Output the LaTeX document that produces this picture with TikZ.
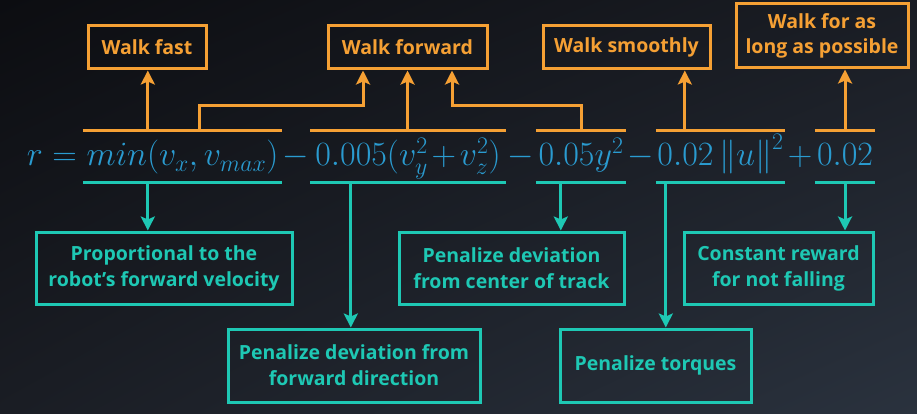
\RequirePackage{fix-cm}
\documentclass[tikz,border=0pt]{standalone}
\usepackage{amsmath}
\usepackage{fontspec}
\setsansfont{Open Sans}
\usepackage{tikz}
\usetikzlibrary{arrows.meta, positioning, calc, shadings}
\definecolor{cOrange}{RGB}{245,160,52}
\definecolor{cTeal}{RGB}{30,200,180}
\definecolor{cBlue}{RGB}{42,155,208}
\definecolor{bgDark}{RGB}{12,13,17}
\definecolor{bgMid}{RGB}{26,29,36}
\definecolor{bgLight}{RGB}{42,50,62}
\tikzset{
	goal/.style     ={rectangle, draw=cOrange, line width=3pt, text=cOrange, align=center, inner sep=2pt,
	                  font=\sffamily\bfseries\fontsize{19.5}{25}\selectfont},
	meaning/.style  ={rectangle, draw=cTeal, line width=3pt, text=cTeal, align=center, inner sep=2pt,
	                  font=\sffamily\bfseries\fontsize{19.5}{26}\selectfont},
	term/.style     ={inner sep=0pt, text=cBlue, text height=35pt, text depth=16pt, align=center,
	                  font=\fontsize{34}{40}\selectfont},
	op/.style       ={inner sep=0pt, text=cBlue, anchor=base, font=\fontsize{34}{40}\selectfont},
	upbar/.style    ={draw=cOrange, line width=3pt},
	downbar/.style  ={draw=cTeal, line width=3pt},
	uparr/.style    ={-{Stealth[length=14pt, width=14pt, inset=3pt]}, draw=cOrange, line width=3pt},
	downarr/.style  ={-{Stealth[length=14pt, width=14pt, inset=3pt]}, draw=cTeal, line width=3pt},
}
\begin{document}
\begin{tikzpicture}[x=1pt, y=-1pt]
	\useasboundingbox (0,0) rectangle (917,414);
	\shade[upper left=bgDark, upper right=bgMid, lower left=bgMid, lower right=bgLight] (0,0) rectangle (917,414);
	% terms of the reward
	\node[op, anchor=base east] (lhs) at (77,166) {$r=$};
	\node[term, text width=199pt] (t1) at (182.5,156.5) {$min(v_x, v_{max})$};
	\node[op] (m1) at (296,166) {$-$};
	\node[term, text width=196pt] (t2) at (408,156.5) {$0.005(v_y^2\mskip2mu{+}\mskip2mu v_z^2)$};
	\node[op] (m2) at (521,166) {$-$};
	\node[term, text width=90pt] (t3) at (581,156.5) {$0.05y^2$};
	\node[op] (m3) at (641,166) {$-$};
	\node[term, text width=129pt] (t4) at (720.5,156.5) {$0.02\left\|u\right\|^2$};
	\node[op] (p1) at (800,166) {$+$};
	\node[term, text width=60pt] (t5) at (845,156.5) {$0.02$};
	\foreach \t in {t1,t2,t3,t4,t5}{
		\draw[upbar] (\t.north west) -- (\t.north east);
		\draw[downbar] (\t.south west) -- (\t.south east);
	}
	% goals
	\node[goal, minimum width=118pt, minimum height=43pt] (fast) at (147,47.5) {Walk fast};
	\node[goal, minimum width=159pt, minimum height=43pt] (fwd) at (407.5,47.5) {Walk forward};
	\node[goal, minimum width=167pt, minimum height=43pt] (smooth) at (626.5,47.5) {Walk smoothly};
	\node[goal, minimum width=172pt, minimum height=64pt] (long) at (822,36) {Walk for as\\long as possible};
	% meanings
	\node[meaning, minimum width=256pt, minimum height=72pt] (prop) at (164,268) {Proportional to the\\robot’s forward velocity};
	\node[meaning, minimum width=252pt, minimum height=73pt] (devfwd) at (354,365.5) {Penalize deviation from\\forward direction};
	\node[meaning, minimum width=225pt, minimum height=72pt] (track) at (511.5,268) {Penalize deviation\\from center of track};
	\node[meaning, minimum width=191pt, minimum height=73pt] (torq) at (655.5,365.5) {Penalize torques};
	\node[meaning, minimum width=189pt, minimum height=72pt] (const) at (778.5,268) {Constant reward\\for not falling};
	% up arrows
	\draw[uparr] ([xshift=65pt]t1.north west) -- ([xshift=65pt]t1.north west |- fast.south);
	\draw[uparr] ([xshift=117pt]t1.north west) -- ++(0,-25) -| ([xshift=-44.5pt]fwd.south);
	\draw[uparr] (t2.north -| fwd.south) -- (fwd.south);
	\draw[uparr] (t3.north) -- ++(0,-25) -| ([xshift=44.5pt]fwd.south);
	\draw[uparr] ([xshift=29pt]t4.north west) -- ([xshift=29pt]t4.north west |- smooth.south);
	\draw[uparr] (t5.north) -- (t5.north |- long.south);
	% down arrows
	\draw[downarr] ([xshift=65pt]t1.south west) -- ([xshift=65pt]t1.south west |- prop.north);
	\draw[downarr] ([xshift=41pt]t2.south west) -- ([xshift=41pt]t2.south west |- devfwd.north);
	\draw[downarr] ([xshift=25pt]t3.south west) -- ([xshift=25pt]t3.south west |- track.north);
	\draw[downarr] ([xshift=10pt]t4.south west) -- ([xshift=10pt]t4.south west |- torq.north);
	\draw[downarr] (t5.south) -- (t5.south |- const.north);
\end{tikzpicture}
\end{document}
